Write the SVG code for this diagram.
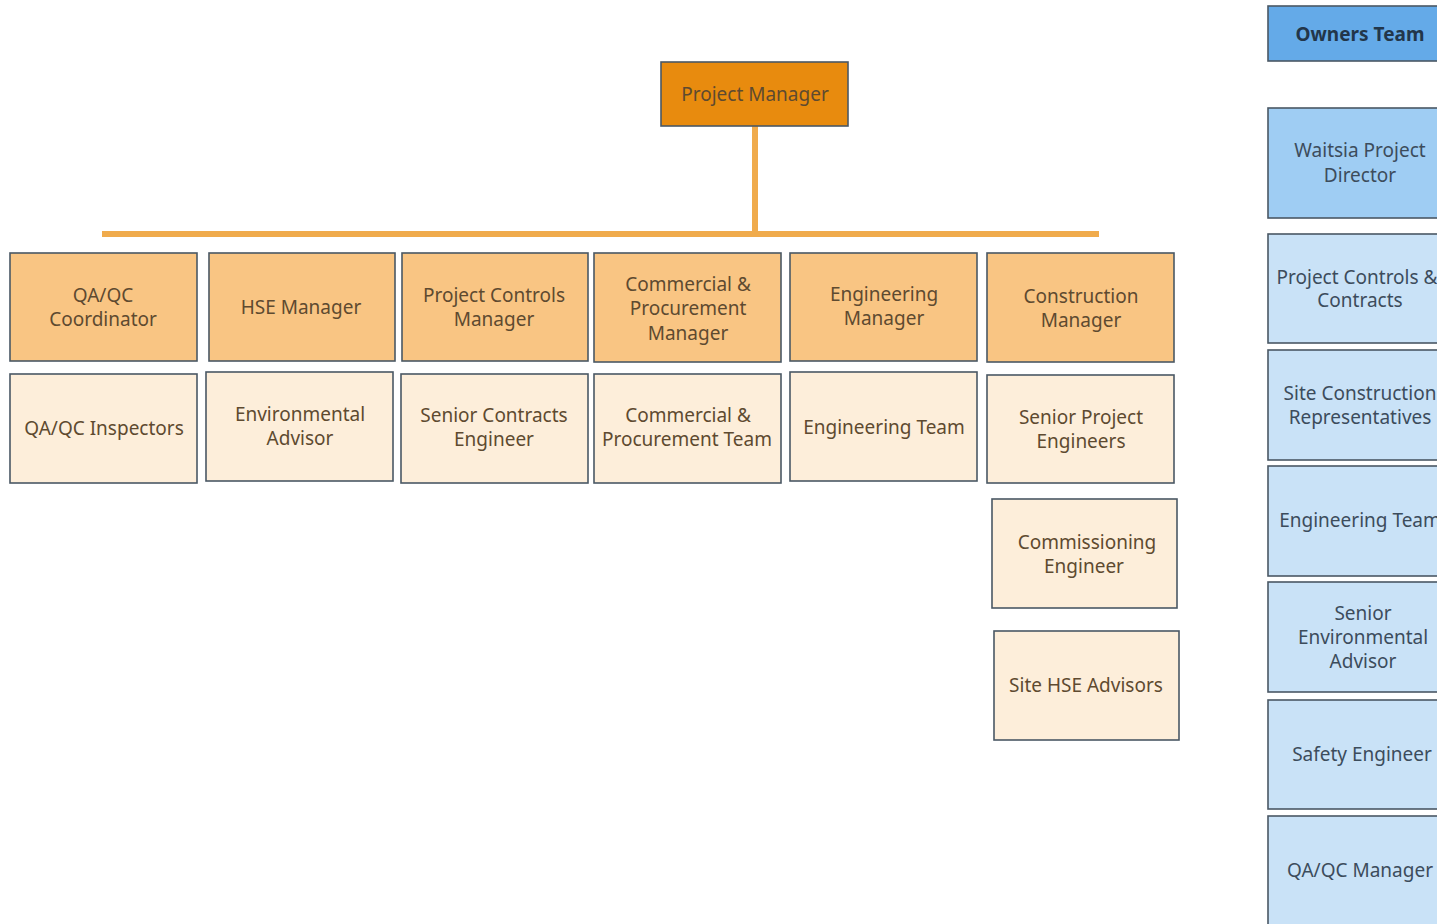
<svg xmlns="http://www.w3.org/2000/svg" width="1437" height="924" viewBox="0 0 1437 924">
<style>
text{font-family:"Noto Sans","Open Sans","DejaVu Sans",sans-serif;font-size:19px;text-anchor:middle}
.b{stroke:#4A5864;stroke-width:1.6}
.pm{fill:#E88B0E}
.m{fill:#F9C583}
.s{fill:#FDEEDA}
.ot{fill:#64AAE8}
.d{fill:#9FCDF3}
.l{fill:#C9E2F7}
.tp{fill:#5E4A30}
.tb{fill:#3C4C5C}
.conn{stroke:#F0AB4C;stroke-width:6;fill:none}
</style>
<rect width="1437" height="924" fill="#FFFFFF"/>
<g id="connectors">
<line class="conn" x1="755" y1="126" x2="755" y2="235"/>
<line class="conn" x1="102" y1="234" x2="1099" y2="234"/>
</g>
<g id="project-manager"><rect class="b pm" x="661" y="62" width="187" height="64"/><text class="tp" x="755" y="101">Project Manager</text></g>
<g id="qaqc-coordinator"><rect class="b m" x="10" y="253" width="187" height="108"/><text class="tp" x="103" y="302">QA/QC</text><text class="tp" x="103" y="326">Coordinator</text></g>
<g id="hse-manager"><rect class="b m" x="209" y="253" width="186" height="108"/><text class="tp" x="301" y="314">HSE Manager</text></g>
<g id="project-controls-manager"><rect class="b m" x="402" y="253" width="186" height="108"/><text class="tp" x="494" y="302">Project Controls</text><text class="tp" x="494" y="326">Manager</text></g>
<g id="commercial-procurement-manager"><rect class="b m" x="594" y="253" width="187" height="109"/><text class="tp" x="688" y="291">Commercial &amp;</text><text class="tp" x="688" y="315">Procurement</text><text class="tp" x="688" y="340">Manager</text></g>
<g id="engineering-manager"><rect class="b m" x="790" y="253" width="187" height="108"/><text class="tp" x="884" y="301">Engineering</text><text class="tp" x="884" y="325">Manager</text></g>
<g id="construction-manager"><rect class="b m" x="987" y="253" width="187" height="109"/><text class="tp" x="1081" y="303">Construction</text><text class="tp" x="1081" y="327">Manager</text></g>
<g id="qaqc-inspectors"><rect class="b s" x="10" y="374" width="187" height="109"/><text class="tp" x="104" y="435">QA/QC Inspectors</text></g>
<g id="environmental-advisor"><rect class="b s" x="206" y="372" width="187" height="109"/><text class="tp" x="300" y="421">Environmental</text><text class="tp" x="300" y="445">Advisor</text></g>
<g id="senior-contracts-engineer"><rect class="b s" x="401" y="374" width="187" height="109"/><text class="tp" x="494" y="422">Senior Contracts</text><text class="tp" x="494" y="446">Engineer</text></g>
<g id="commercial-procurement-team"><rect class="b s" x="594" y="374" width="187" height="109"/><text class="tp" x="688" y="422">Commercial &amp;</text><text class="tp" x="687" y="446">Procurement Team</text></g>
<g id="engineering-team"><rect class="b s" x="790" y="372" width="187" height="109"/><text class="tp" x="884" y="434">Engineering Team</text></g>
<g id="senior-project-engineers"><rect class="b s" x="987" y="375" width="187" height="108"/><text class="tp" x="1081" y="424">Senior Project</text><text class="tp" x="1081" y="448">Engineers</text></g>
<g id="commissioning-engineer"><rect class="b s" x="992" y="499" width="185" height="109"/><text class="tp" x="1087" y="549">Commissioning</text><text class="tp" x="1084" y="573">Engineer</text></g>
<g id="site-hse-advisors"><rect class="b s" x="994" y="631" width="185" height="109"/><text class="tp" x="1086" y="692">Site HSE Advisors</text></g>
<g id="owners-team"><rect class="b ot" x="1268" y="6" width="190" height="55"/><text x="1360" y="41" font-weight="bold" font-size="20" fill="#22364A">Owners Team</text></g>
<g id="waitsia-project-director"><rect class="b d" x="1268" y="108" width="190" height="110"/><text class="tb" x="1360" y="157">Waitsia Project</text><text class="tb" x="1360" y="182">Director</text></g>
<g id="project-controls-contracts"><rect class="b l" x="1268" y="234" width="190" height="109"/><text class="tb" x="1357" y="284">Project Controls &amp;</text><text class="tb" x="1360" y="307">Contracts</text></g>
<g id="site-construction-representatives"><rect class="b l" x="1268" y="350" width="190" height="110"/><text class="tb" x="1360" y="400">Site Construction</text><text class="tb" x="1360" y="424">Representatives</text></g>
<g id="owners-engineering-team"><rect class="b l" x="1268" y="466" width="190" height="110"/><text class="tb" x="1360" y="527">Engineering Team</text></g>
<g id="senior-environmental-advisor"><rect class="b l" x="1268" y="582" width="190" height="110"/><text class="tb" x="1363" y="620">Senior</text><text class="tb" x="1363" y="644">Environmental</text><text class="tb" x="1363" y="668">Advisor</text></g>
<g id="safety-engineer"><rect class="b l" x="1268" y="700" width="190" height="109"/><text class="tb" x="1362" y="761">Safety Engineer</text></g>
<g id="qaqc-manager"><rect class="b l" x="1268" y="816" width="190" height="120"/><text class="tb" x="1360" y="877">QA/QC Manager</text></g>
</svg>
